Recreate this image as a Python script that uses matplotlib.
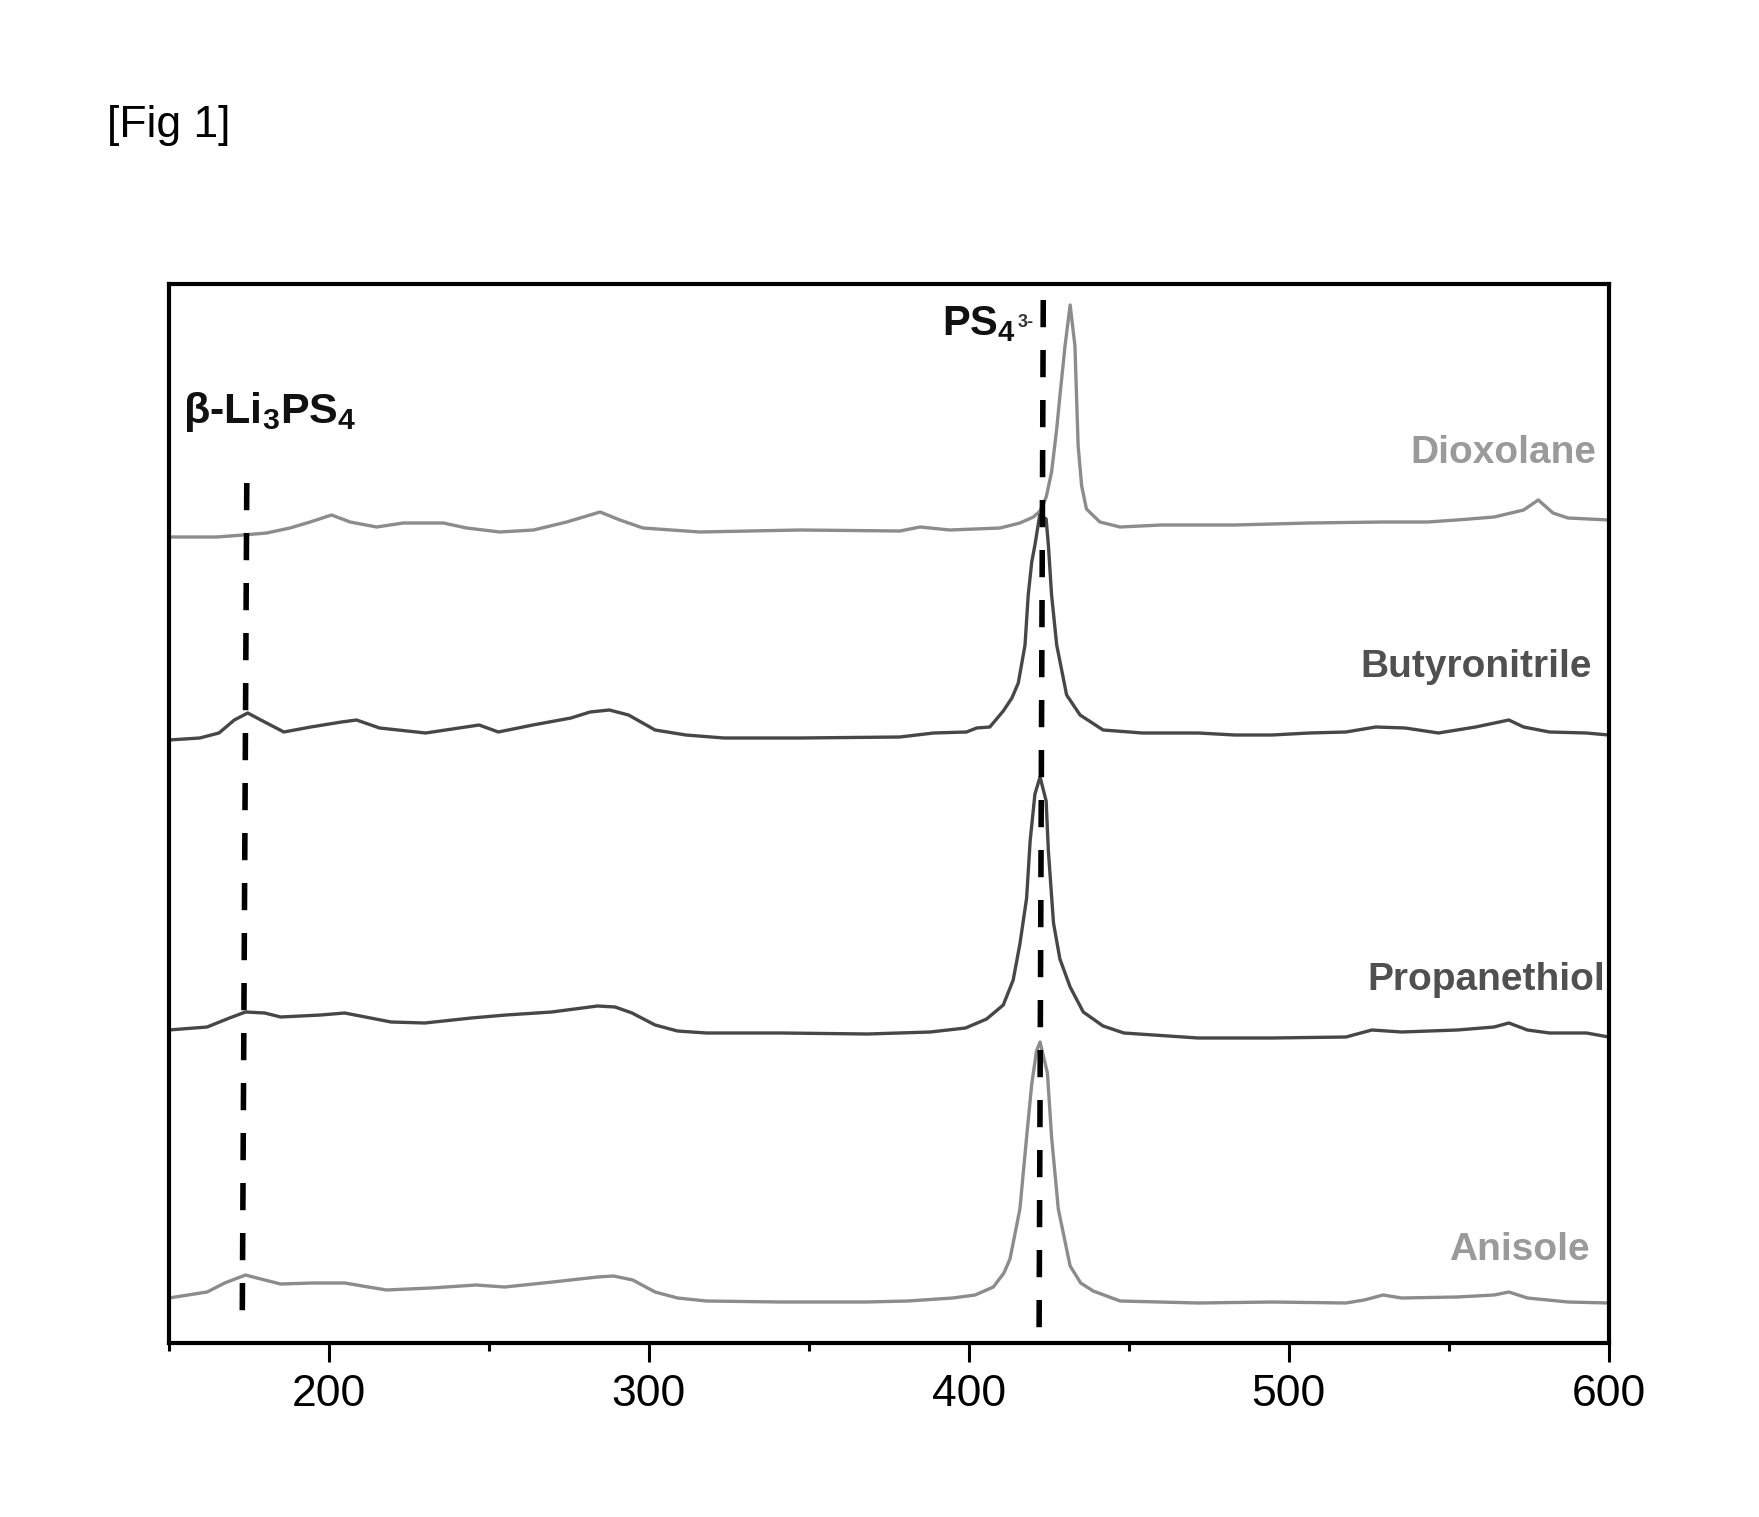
import matplotlib
matplotlib.use("Agg")
import matplotlib.pyplot as plt
from matplotlib.ticker import MultipleLocator

plt.rcParams['font.family'] = ['Liberation Sans', 'DejaVu Sans']
plt.rcParams['mathtext.fontset'] = 'custom'
plt.rcParams['mathtext.rm'] = 'Liberation Sans'
plt.rcParams['mathtext.bf'] = 'Liberation Sans:bold'
plt.rcParams['mathtext.it'] = 'Liberation Sans:italic'

# ---- data (Raman shift, cm-1 ; stacked intensity, a.u.) ----
anisole_x = [150, 162, 167.5, 174, 180, 185, 195, 205, 218, 232, 246, 255, 270, 284, 289, 295, 302, 309, 318, 341, 368, 381, 395, 402, 407.7, 411, 412.9, 416, 418.1, 419.7, 421.2, 422.3, 424.6, 425.9, 428, 431.7, 435, 438.9, 447.3, 471.7, 494.8, 517.9, 523.6, 529.5, 535.3, 552.7, 564.2, 568.8, 574.6, 587.3, 600]
anisole_y = [45, 51, 60, 68, 63, 59, 60, 60, 53, 55, 58, 56, 61, 66, 67, 63, 51, 45, 42, 41, 41, 42, 45, 48, 56, 70, 84, 134, 206, 259, 292, 301, 270, 206, 134, 77, 60, 52, 42, 40, 41, 40, 43, 48, 45, 46, 48, 51, 45, 41, 40]

propanethiol_x = [150, 162, 169, 174, 180, 185, 197.5, 205, 219.5, 230, 244.6, 255.4, 269.7, 284, 289.5, 294.8, 302, 309, 318, 341.5, 368.4, 388, 399, 405.6, 410.8, 413.9, 416, 418.1, 419.2, 420.7, 422.3, 424.2, 424.9, 426.5, 428.5, 431.7, 435.8, 442, 448.5, 471.7, 494.8, 517.9, 526, 535.3, 552.7, 564.2, 568.8, 574.6, 581.5, 593.1, 600]
propanethiol_y = [313, 316, 325, 331, 330, 326, 328, 330, 321, 320, 325, 328, 331, 337, 336, 330, 318, 312, 310, 310, 309, 311, 315, 324, 338, 363, 399, 445, 502, 549, 566, 542, 492, 420, 384, 356, 331, 317, 310, 305, 305, 306, 313, 311, 313, 316, 320, 313, 310, 310, 306]

butyronitrile_x = [150, 159.7, 165.7, 170.5, 174.7, 178.8, 186, 194.4, 204, 208.7, 215.9, 230.3, 247, 253, 263.8, 275.7, 281.7, 287.7, 293.7, 302, 311.6, 323.5, 347.3, 378.5, 389, 399.3, 402.5, 406.6, 410.8, 413.5, 415.5, 417.6, 418.6, 419.7, 420.7, 422.2, 424.2, 424.9, 425.9, 427.5, 430.6, 434.8, 442, 454.3, 471.7, 483.2, 494.8, 506.4, 517.9, 527.2, 536.4, 546.8, 558.4, 568.8, 573.4, 581.5, 593, 600]
butyronitrile_y = [603, 605, 610, 623, 630, 623, 611, 616, 621, 623, 615, 610, 618, 611, 618, 625, 631, 633, 628, 613, 608, 605, 605, 606, 610, 611, 615, 616, 632, 645, 660, 698, 748, 781, 798, 828, 824, 798, 748, 698, 648, 628, 613, 610, 610, 608, 608, 610, 611, 616, 615, 610, 616, 623, 616, 611, 610, 608]

dioxolane_x = [150, 165, 173.3, 180.6, 187.9, 194.2, 200.9, 206.7, 215, 223.3, 235.8, 243.1, 253.5, 264, 274.4, 284.8, 291, 298.2, 316, 347.3, 378.5, 384.8, 394.1, 409.8, 416, 420.2, 422.3, 423.5, 424.3, 425.9, 427.5, 428.5, 430.1, 431.7, 433.2, 433.7, 434.2, 435.3, 436.8, 441, 447.3, 460.1, 483.2, 506.4, 529.5, 543.4, 552.6, 564.2, 573.4, 578, 582.6, 587.3, 600]
dioxolane_y = [806, 806, 808, 810, 815, 821, 828, 821, 816, 820, 820, 815, 811, 813, 821, 831, 823, 815, 811, 813, 812, 816, 813, 815, 820, 826, 832, 840, 847, 871, 914, 947, 997, 1038, 997, 947, 897, 857, 834, 821, 816, 818, 818, 820, 821, 821, 823, 826, 833, 843, 830, 825, 823]

series_names = ["Dioxolane", "Butyronitrile", "Propanethiol", "Anisole"]
series_colors = ["#8c8c8c", "#474747", "#474747", "#8c8c8c"]
label_colors = ["#9a9a9a", "#505050", "#505050", "#9a9a9a"]
label_x = [596, 594.8, 598.8, 594.2]
label_y = [880, 666, 353, 83]

# reference (dashed) lines
beta_line_x = [174.4, 173.0]
beta_line_y = [860, 30]
ps4_line_x = [423.3, 422.0]
ps4_line_y = [1043, 10]

xticks_major = [200, 300, 400, 500, 600]

# ---- figure ----
W, H = 1759, 1517
fig = plt.figure(figsize=(W / 100, H / 100), dpi=100)
ax = fig.add_axes([168.7 / W, 174 / H, 1440 / W, 1059 / H])

xs = [dioxolane_x, butyronitrile_x, propanethiol_x, anisole_x]
ys = [dioxolane_y, butyronitrile_y, propanethiol_y, anisole_y]
for x, y, c in zip(xs, ys, series_colors):
    ax.plot(x, y, color=c, lw=2.4, solid_joinstyle='round', zorder=2)

for lx, ly in [(beta_line_x, beta_line_y), (ps4_line_x, ps4_line_y)]:
    ln, = ax.plot(lx, ly, color='black', lw=4, zorder=3)
    ln.set_dashes([4.9, 4.1])

for name, c, tx, ty in zip(series_names, label_colors, label_x, label_y):
    ax.text(tx, ty, name, color=c, fontsize=28, fontweight='bold',
            ha='right', va='baseline', zorder=4)

ax.text(154.5, 920, r'β-Li$_\mathbf{3}$PS$_\mathbf{4}$', fontsize=31,
        fontweight='bold', color='#111111', ha='left', va='baseline')
ax.text(391.7, 1008, r'PS$_\mathbf{4}$', fontsize=30,
        fontweight='bold', color='#111111', ha='left', va='baseline')
ax.text(415.2, 1016, '3-', fontsize=13,
        fontweight='bold', color='#333333', ha='left', va='baseline')

ax.set_xlim(150, 600)
ax.set_ylim(0, 1059)
ax.set_xticks(xticks_major)
ax.set_xticklabels([str(v) for v in xticks_major])
ax.xaxis.set_minor_locator(MultipleLocator(50))
ax.set_yticks([])
ax.tick_params(axis='x', which='major', direction='out', length=14, width=2.2,
               labelsize=32, pad=8, top=False)
ax.tick_params(axis='x', which='minor', direction='out', length=6, width=2.2, top=False)
for s in ax.spines.values():
    s.set_linewidth(3)

fig.text(107 / W, 1 - 137 / H, '[Fig 1]', fontsize=32, ha='left', va='baseline')

fig.savefig('out.png', dpi=100)
